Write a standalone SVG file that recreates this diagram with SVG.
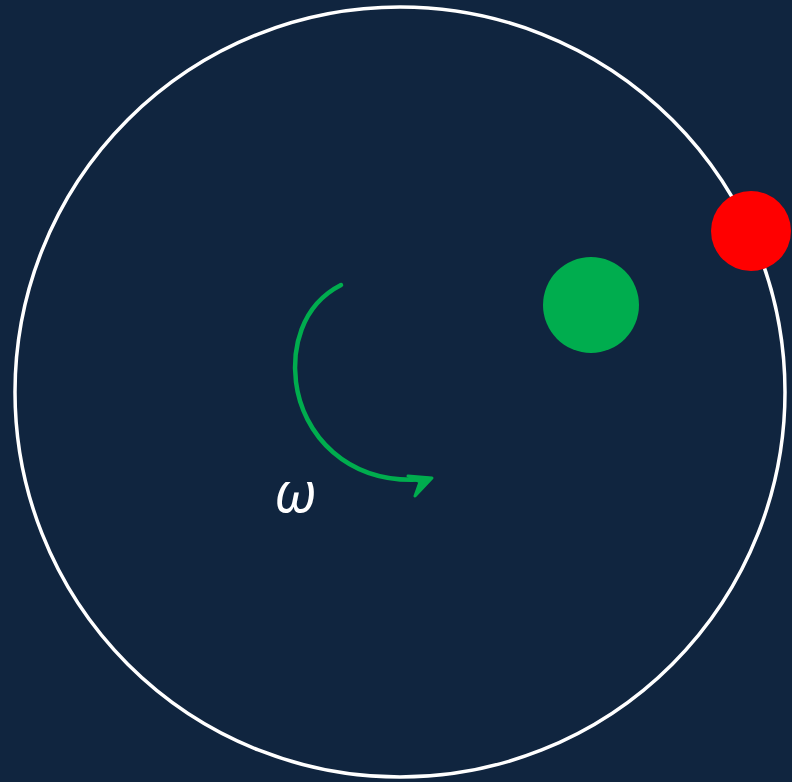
<svg xmlns="http://www.w3.org/2000/svg" width="792" height="782" viewBox="0 0 792 782">
<style>
.green{fill:#00AD4E}
.arc{fill:none;stroke:#00AD4E;stroke-width:4.5;stroke-linecap:round}
</style>
<rect width="792" height="782" fill="#10253F"/>
<g id="disk"><circle cx="400" cy="392" r="385" fill="none" stroke="#FFFFFF" stroke-width="3.5"/></g>
<g id="red-ball"><circle cx="751" cy="231" r="40" fill="#FF0000"/></g>
<g id="green-ball"><circle cx="591" cy="305" r="48" class="green"/></g>
<g id="connectors">
<path class="arc" d="M341,285 C300,306 292,350 296,382 C302,432 345,487 428,479"/>
<path class="green" stroke="#00AD4E" stroke-width="3" stroke-linejoin="round" stroke-linecap="round" d="M432,478 L408,476 L420,482 L415,496 Z"/>
</g>
<g id="omega"><text x="274" y="512" font-family="Noto Sans, DejaVu Sans, sans-serif" font-style="italic" font-size="54" fill="#FFFFFF">ω</text></g>
</svg>
